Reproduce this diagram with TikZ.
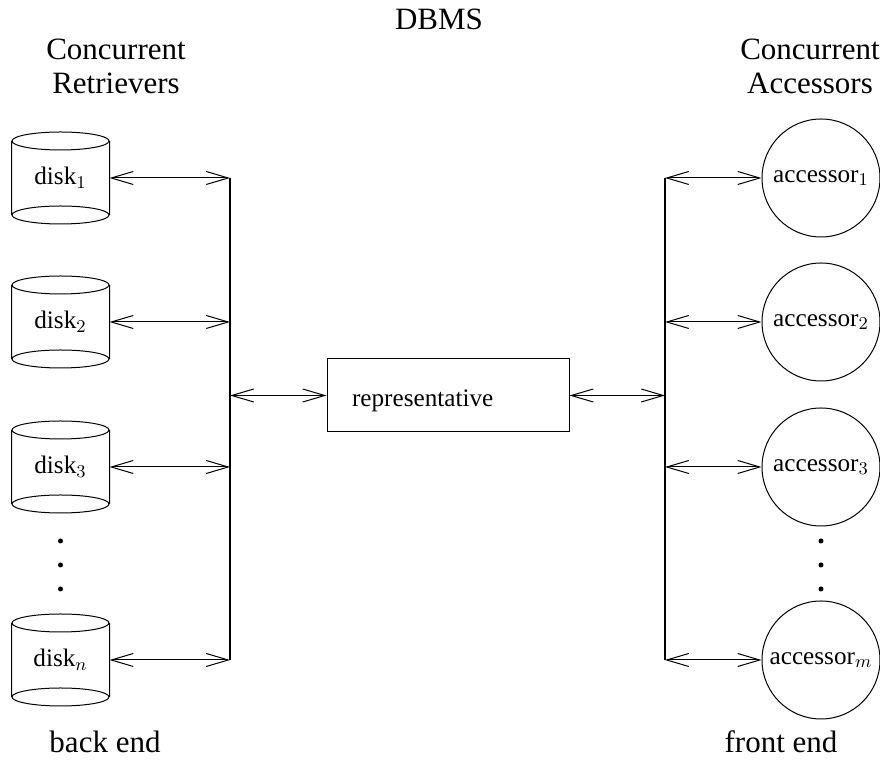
\documentclass[tikz,border=0pt]{standalone}
\usepackage{fontspec}
\setmainfont{Liberation Serif}
\usetikzlibrary{arrows.meta}
\begin{document}
\begin{tikzpicture}[x=0.5pt,y=-0.5pt,line width=0.5pt,
    link/.style={{Straight Barb[length=11pt,width=6.5pt]}-{Straight Barb[length=11pt,width=6.5pt]}},
    bus/.style={line width=1pt}]
  \useasboundingbox (0,0) rectangle (880,763);
  \begin{scope}[every node/.style={font=\fontsize{15.5}{17}\selectfont,align=center,anchor=base}]
    \node (T) at (439,30) {DBMS};
    \node (R) at (116,94) {Concurrent\\Retrievers};
    \node (A) at (810,94) {Concurrent\\Accessors};
    \node (BE) at (105,753) {back end};
    \node (FE) at (781,753) {front end};
  \end{scope}
  \begin{scope}[every node/.style={font=\fontsize{12.6}{14}\selectfont,inner sep=0pt}]
    \foreach \n/\y/\s in {1/178/1,2/322/2,3/467/3,4/660/n} {
      \node[minimum width=48.5pt,minimum height=36.5pt] (d\n) at (60.5,\y) {disk$_{\s}$};
      \draw (d\n.north) ellipse (48.5 and 9) (d\n.south) ellipse (48.5 and 9)
        (d\n.north west) -- (d\n.south west) (d\n.north east) -- (d\n.south east);
      \coordinate (lj\n) at (230,\y);
    }
    \foreach \n/\y/\s in {1/178/1,2/322/2,3/467/3,4/660/m} {
      \node[circle,draw,minimum size=59pt] (a\n) at (821,\y) {accessor$_{\s}$};
      \coordinate (rj\n) at (665,\y);
    }
    \node[draw,minimum width=121pt,minimum height=36.5pt,inner xsep=12.5pt,
      text width=96pt,text height=11pt,text depth=0pt,align=left] (rep) at (448,395.5) {representative};
  \end{scope}
  \coordinate (lm) at (230,395.5);
  \coordinate (rm) at (665,395.5);
  \draw[bus] (lj1) -- (lj4);
  \draw[bus] (rj1) -- (rj4);
  \foreach \n in {1,...,4} {
    \draw[link] (d\n.east) -- (lj\n);
    \draw[link] (rj\n) -- (a\n);
  }
  \draw[link] (lm) -- (rep);
  \draw[link] (rep) -- (rm);
  \foreach \y in {541,565,589} {
    \fill (60.5,\y) circle (2.5);
    \fill (821,\y) circle (2.5);
  }
\end{tikzpicture}
\end{document}
